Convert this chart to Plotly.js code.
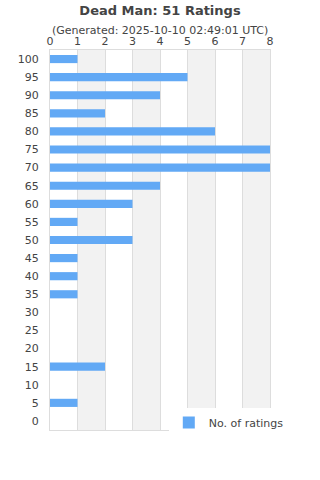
<!DOCTYPE html>
<html>
<head>
<meta charset="utf-8">
<script src="https://cdn.plot.ly/plotly-3.0.1.min.js"></script>
<style>html,body{margin:0;padding:0;background:#fff;}#chart{width:320px;height:480px;}</style>
</head>
<body>
<div id="chart"></div>
<script>
const ratingLabels = ["0","5","10","15","20","25","30","35","40","45","50","55","60","65","70","75","80","85","90","95","100"];
const ratingCounts = [0,1,0,2,0,0,0,1,1,1,3,1,3,4,8,8,6,2,4,5,1];
const xTicks = [0,1,2,3,4,5,6,7,8];
const seriesName = "No. of ratings";
const titleText = "Dead Man: 51 Ratings";
const subtitleText = "(Generated: 2025-10-10 02:49:01 UTC)";

const bands = [];
for (let i = 1; i < 8; i += 2) {
  bands.push({type:'rect', xref:'x', yref:'paper', x0:i, x1:i+1, y0:0, y1:1,
    fillcolor:'#f2f2f2', line:{width:0}, layer:'below'});
}

const trace = {
  type:'bar', orientation:'h',
  x: ratingCounts, y: ratingLabels,
  name: seriesName,
  marker:{color:'#62a9f5', line:{width:0}},
  width:0.45,
  showlegend:true
};

const layout = {
  width:320, height:480,
  margin:{l:50, r:50, t:50, b:50},
  paper_bgcolor:'#fff', plot_bgcolor:'#fff',
  font:{family:'DejaVu Sans', size:11, color:'#444'},
  title:{text:'<b>'+titleText+'</b>', x:0.5, xanchor:'center', y:0.979, yanchor:'middle', font:{size:13, color:'#444'}},
  annotations:[{text:subtitleText, xref:'paper', yref:'paper', x:0.5, y:1, yshift:20, xanchor:'center', yanchor:'middle', showarrow:false, font:{size:11, color:'#444'}}],
  xaxis:{side:'top', range:[0,8], tickvals:xTicks, ticktext:xTicks.map(String), showgrid:true, gridcolor:'#dddddd',
    showline:true, linecolor:'#dddddd', mirror:true, zeroline:false, ticks:'', ticklen:0, fixedrange:true},
  yaxis:{type:'category', categoryorder:'array', categoryarray:ratingLabels, showgrid:false,
    showline:true, linecolor:'#dddddd', mirror:true, ticks:'outside', ticklen:8, tickcolor:'#fff', fixedrange:true},
  shapes:bands,
  showlegend:true,
  legend:{x:0.54, xanchor:'left', y:0.02, yanchor:'middle', bgcolor:'#fff', font:{size:11, color:'#444'}, itemwidth:30},
  bargap:0.5
};

Plotly.newPlot('chart', [trace], layout, {staticPlot:true, displayModeBar:false});
</script>
</body>
</html>
